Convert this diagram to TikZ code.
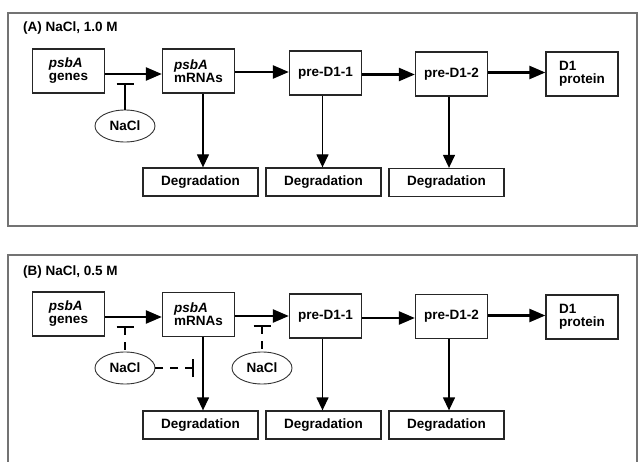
\documentclass[tikz,border=0pt]{standalone}
\usepackage{fontspec}
\setmainfont{Liberation Sans}
\usetikzlibrary{arrows.meta,shapes.geometric}
\begin{document}
\begin{tikzpicture}[x=1pt,y=-1pt,
 font=\fontsize{13.5}{13}\selectfont\bfseries,
 box/.style={draw=black!85,line width=1.3pt,minimum width=72pt,minimum height=44pt,inner sep=0pt,align=left},
 deg/.style={draw=black!85,line width=1.3pt,minimum width=115pt,minimum height=28pt,inner sep=0pt},
 salt/.style={draw=black!80,line width=0.9pt,ellipse,minimum width=60pt,minimum height=32pt,inner sep=0pt},
 frame/.style={draw=black!55,line width=1.2pt},
 harrow/.style={line width=2.4pt,-{Triangle[length=16pt,width=13pt]}},
 varrow/.style={line width=1.3pt,-{Triangle[length=13pt,width=12pt]}},
 inhib/.style={line width=2.4pt},
 dinhib/.style={line width=2.2pt,dash pattern=on 8pt off 7pt},
 title/.style={anchor=west,inner sep=0pt}]
\useasboundingbox (0,0) rectangle (639,462);
% frames
\draw[frame] (8,13) rectangle (637,226);
\draw[frame] (8,470) -- (8,255) -- (637,255) -- (637,470);
% ---------------- Panel A ----------------
\node[title] (tA) at (23,28) {(A) NaCl, 1.0 M};
\node[box] (gA) at (68.5,71) {{\itshape psbA}\\genes};
\node[box] (mA) at (198.5,71) {{\itshape psbA}\\mRNAs};
\node[box] (p1A) at (325.5,73) {pre-D1-1};
\node[box] (p2A) at (451.5,74) {pre-D1-2};
\node[box] (dA) at (582,74) {D1\\protein};
\node[deg] (d1A) at (200.5,182) {Degradation};
\node[deg] (d2A) at (323.5,182) {Degradation};
\node[deg] (d3A) at (446.5,182.5) {Degradation};
\node[salt] (sA) at (125,126) {NaCl};
\draw[harrow] (gA.east |- 0,74) -- (mA.west |- 0,74);
\draw[harrow] (mA.east |- 0,72) -- (p1A.west |- 0,72);
\draw[harrow] (p1A.east |- 0,74.5) -- (p2A.west |- 0,74.5);
\draw[harrow] (p2A.east |- 0,72.5) -- (dA.west |- 0,72.5);
\draw[varrow] ([xshift=4.5pt]mA.south) -- ([xshift=4.5pt]mA.south |- d1A.north);
\draw[varrow] ([xshift=-3pt]p1A.south) -- ([xshift=-3pt]p1A.south |- d2A.north);
\draw[varrow] ([xshift=-2.5pt]p2A.south) -- ([xshift=-2.5pt]p2A.south |- d3A.north);
\coordinate (bA) at (125,84);
\draw[inhib] (sA.north) -- (bA);
\draw[inhib] ([xshift=-8.5pt]bA) -- ([xshift=8.5pt]bA);
% ---------------- Panel B ----------------
\node[title] (tB) at (23,272) {(B) NaCl, 0.5 M};
\node[box] (gB) at (68.5,314) {{\itshape psbA}\\genes};
\node[box] (mB) at (198.5,314.5) {{\itshape psbA}\\mRNAs};
\node[box] (p1B) at (325.5,316) {pre-D1-1};
\node[box] (p2B) at (451.5,316.5) {pre-D1-2};
\node[box] (dB) at (582,317) {D1\\protein};
\node[deg] (d1B) at (200.5,425) {Degradation};
\node[deg] (d2B) at (323.5,425) {Degradation};
\node[deg] (d3B) at (446.5,425) {Degradation};
\node[salt] (sB1) at (125,368) {NaCl};
\node[salt] (sB2) at (262,368) {NaCl};
\draw[harrow] (gB.east |- 0,317) -- (mB.west |- 0,317);
\draw[harrow] (mB.east |- 0,316) -- (p1B.west |- 0,316);
\draw[harrow] (p1B.east |- 0,318) -- (p2B.west |- 0,318);
\draw[harrow] (p2B.east |- 0,315.5) -- (dB.west |- 0,315.5);
\draw[varrow] ([xshift=4.5pt]mB.south) -- ([xshift=4.5pt]mB.south |- d1B.north);
\draw[varrow] ([xshift=-3pt]p1B.south) -- ([xshift=-3pt]p1B.south |- d2B.north);
\draw[varrow] ([xshift=-2.5pt]p2B.south) -- ([xshift=-2.5pt]p2B.south |- d3B.north);
\coordinate (bB1) at (125,327);
\coordinate (bB2) at (262,326);
\coordinate (bB3) at (193,368);
\draw[dinhib] (bB1) -- (sB1.north);
\draw[inhib] ([xshift=-8.5pt]bB1) -- ([xshift=8.5pt]bB1);
\draw[dinhib] (bB2) -- (sB2.north);
\draw[inhib] ([xshift=-8.5pt]bB2) -- ([xshift=8.5pt]bB2);
\draw[dinhib] (bB3) -- (sB1.east);
\draw[inhib] ([yshift=-9pt]bB3) -- ([yshift=9pt]bB3);
\end{tikzpicture}
\end{document}
